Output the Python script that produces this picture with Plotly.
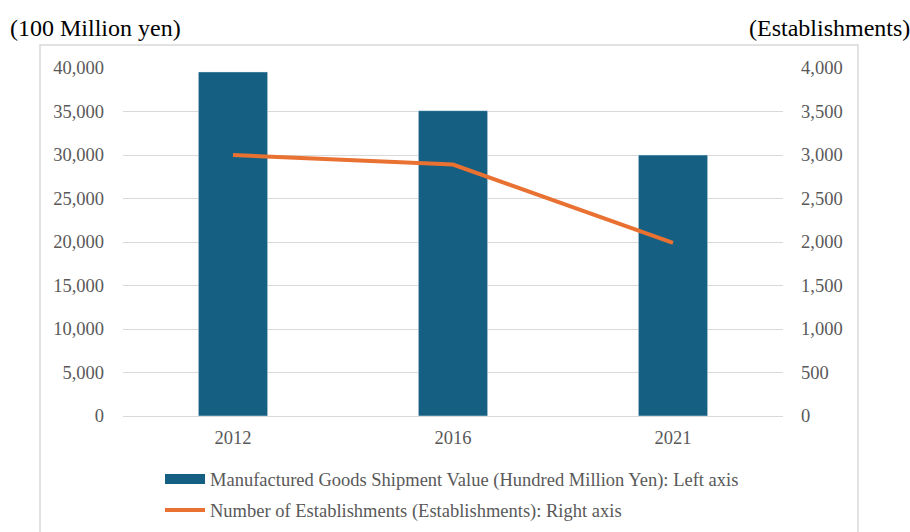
import plotly.graph_objects as go

years = ["2012", "2016", "2021"]
shipment_value = [39550, 35100, 30000]
establishments = [3000, 2890, 1990]

left_ticks = [0, 5000, 10000, 15000, 20000, 25000, 30000, 35000, 40000]
left_tick_labels = ["0", "5,000", "10,000", "15,000", "20,000", "25,000", "30,000", "35,000", "40,000"]
right_ticks = [0, 500, 1000, 1500, 2000, 2500, 3000, 3500, 4000]
right_tick_labels = ["0", "500", "1,000", "1,500", "2,000", "2,500", "3,000", "3,500", "4,000"]

bar_name = "Manufactured Goods Shipment Value (Hundred Million Yen): Left axis"
line_name = "Number of Establishments (Establishments): Right axis"

BLUE = "#156082"
ORANGE = "#E97132"
GRID = "#D9D9D9"
TXT = "#595959"
FONT = "Liberation Serif"
FS = 18.5

fig = go.Figure()
fig.add_trace(go.Bar(x=years, y=shipment_value, name=bar_name, marker_color=BLUE,
                     width=0.315, showlegend=False, yaxis="y"))
fig.add_trace(go.Scatter(x=[None], y=[None], mode="lines", name=bar_name,
                         line=dict(color=BLUE, width=10), legendgroup="a", showlegend=True))
fig.add_trace(go.Scatter(x=years, y=establishments, mode="lines", name=line_name,
                         line=dict(color=ORANGE, width=4), yaxis="y2", legendgroup="b"))

fig.update_layout(
    width=910, height=532,
    margin=dict(l=123, r=127, t=68, b=116, autoexpand=False),
    paper_bgcolor="white", plot_bgcolor="white",
    font=dict(family=FONT, size=FS, color=TXT),
    xaxis=dict(showgrid=False, showline=False, ticks="", tickfont=dict(size=FS, color=TXT),
               ticklabelstandoff=8),
    yaxis=dict(range=[0, 40000], tickvals=left_ticks, ticktext=left_tick_labels,
               showgrid=True, gridcolor=GRID, gridwidth=1, zeroline=True, zerolinecolor=GRID,
               zerolinewidth=1, ticks="", tickfont=dict(size=FS, color=TXT), ticklabelstandoff=18),
    yaxis2=dict(range=[0, 4000], tickvals=right_ticks, ticktext=right_tick_labels,
                overlaying="y", side="right", showgrid=False, zeroline=False, ticks="",
                tickfont=dict(size=FS, color=TXT), ticklabelstandoff=17),
    legend=dict(x=(160 - 123) / 660, y=-0.128, xanchor="left", yanchor="top", orientation="v",
                traceorder="grouped", tracegroupgap=4, font=dict(size=FS, color=TXT),
                bgcolor="rgba(0,0,0,0)", itemwidth=40),
    showlegend=True,
)

fig.add_annotation(text="(100 Million yen)", xref="paper", yref="paper",
                   x=(8 - 123) / 660, y=(416 - 28) / 348, xanchor="left", yanchor="middle",
                   showarrow=False, font=dict(family=FONT, size=24, color="black"))
fig.add_annotation(text="(Establishments)", xref="paper", yref="paper",
                   x=(912 - 123) / 660, y=(416 - 28) / 348, xanchor="right", yanchor="middle",
                   showarrow=False, font=dict(family=FONT, size=24, color="black"))

fig.add_shape(type="rect", xref="paper", yref="paper",
              x0=(40 - 123) / 660, x1=(858 - 123) / 660,
              y0=(416 - 545) / 348, y1=(416 - 45) / 348,
              line=dict(color=GRID, width=1.5), fillcolor="rgba(0,0,0,0)", layer="below")

fig.write_html("out.html")
